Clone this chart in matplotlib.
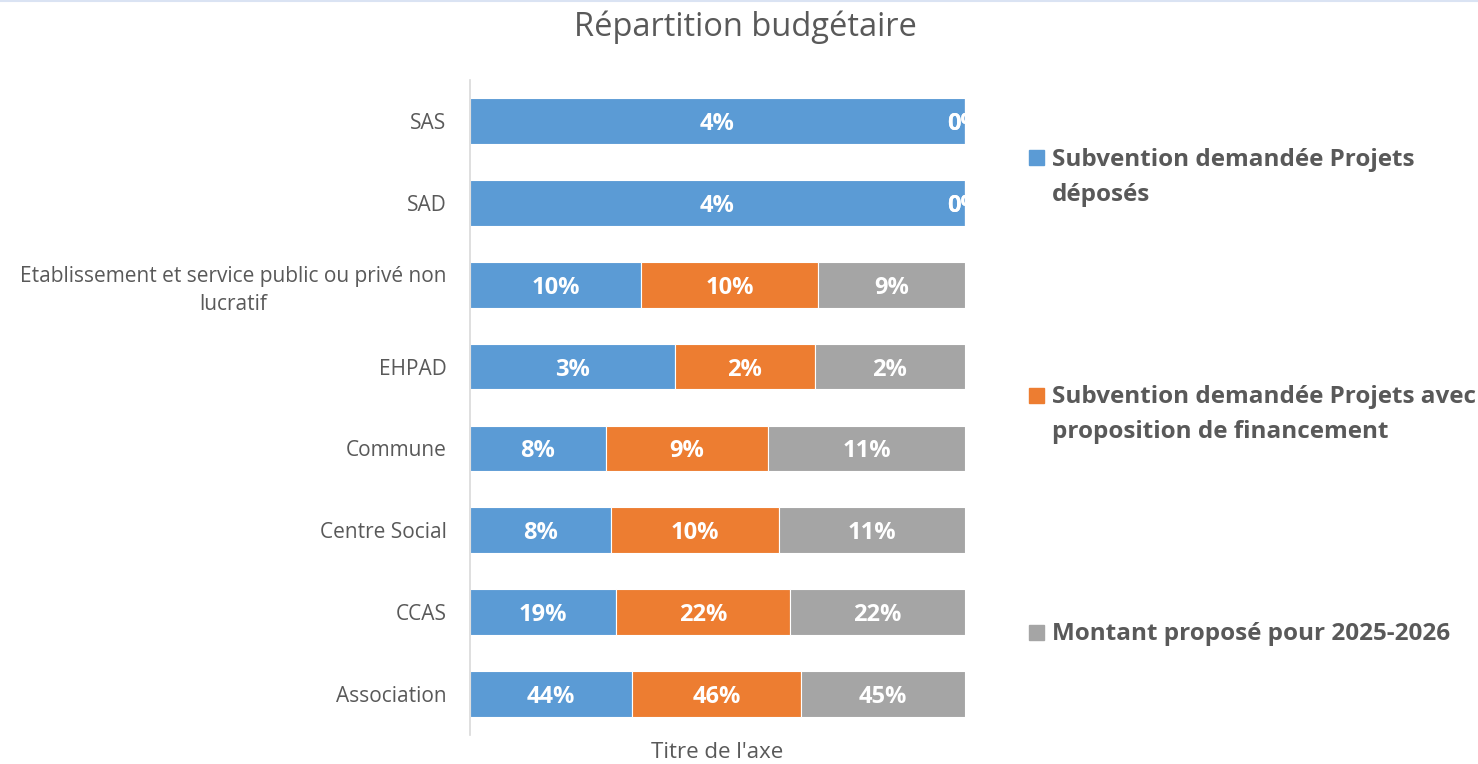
import matplotlib
matplotlib.use("Agg")
import matplotlib.pyplot as plt
from matplotlib.patches import Rectangle
from matplotlib.lines import Line2D
import numpy as np

plt.rcParams['font.family'] = ['Open Sans', 'DejaVu Sans']

categories = ["Association", "CCAS", "Centre Social", "Commune", "EHPAD",
              "Etablissement et service public ou privé non\nlucratif", "SAD", "SAS"]
series_names = ["Subvention demandée Projets\ndéposés",
                "Subvention demandée Projets avec\nproposition de financement",
                "Montant proposé pour 2025-2026"]
deposes = [44.2, 18.7, 8.2, 7.8, 3.4, 10.0, 3.9, 3.9]
proposition = [46.3, 22.2, 9.8, 9.3, 2.32, 10.4, 0.0, 0.0]
montant = [44.7, 22.3, 10.8, 11.3, 2.49, 8.6, 0.0, 0.0]
colors = ["#5B9BD5", "#ED7D31", "#A5A5A5"]
text_color = "#595959"

W, H = 1478, 764
fig = plt.figure(figsize=(W / 100, H / 100), dpi=100)
ax = fig.add_axes([470 / W, 29 / H, 495 / W, 655 / H])

data = np.array([deposes, proposition, montant])
totals = data.sum(axis=0)
shares = data / totals
y = np.arange(len(categories))
left = np.zeros(len(categories))
for i, (row, raw) in enumerate(zip(shares, data)):
    ax.barh(y, row, left=left, height=0.56, color=colors[i], edgecolor="white", linewidth=0.8)
    for j in range(len(categories)):
        ax.text(left[j] + row[j] / 2, y[j], f"{raw[j]:.0f}%", ha="center", va="center_baseline",
                color="white", fontsize=17, fontweight="bold", clip_on=True)
    left += row

ax.set_xlim(0, 1)
ax.set_ylim(-0.5, len(categories) - 0.5)
ax.set_yticks(y)
ax.set_yticklabels(categories, color=text_color, fontsize=15, multialignment="center",
                   linespacing=1.45)
ax.tick_params(axis="y", length=0, pad=17)
ax.set_xticks([])
for s in ["top", "right", "bottom"]:
    ax.spines[s].set_visible(False)
ax.spines["left"].set_color("#D9D9D9")
ax.spines["left"].set_linewidth(1.2)
ax.set_xlabel("Titre de l'axe", color=text_color, fontsize=16, labelpad=5)

fig.text(745 / W, 1 - 27 / H, "Répartition budgétaire", ha="center", va="center",
         color=text_color, fontsize=23.5)

# legend (manual placement): square centre y, baseline of last text line
leg_sq = [157, 395, 632]
leg_base = [201, 438, 640]
for name, c, sq, base in zip(series_names, colors, leg_sq, leg_base):
    fig.add_artist(Rectangle((1029 / W, 1 - (sq + 7.5) / H), 15 / W, 15 / H,
                             transform=fig.transFigure, color=c))
    fig.text(1052 / W, 1 - base / H, name, ha="left", va="baseline", color=text_color,
             fontsize=17.5, fontweight="bold", linespacing=1.62)

fig.add_artist(Line2D([0, 1], [1 - 1 / H, 1 - 1 / H], transform=fig.transFigure,
                      color="#DAE3F3", linewidth=1.5))

fig.savefig("out.png", dpi=100)
